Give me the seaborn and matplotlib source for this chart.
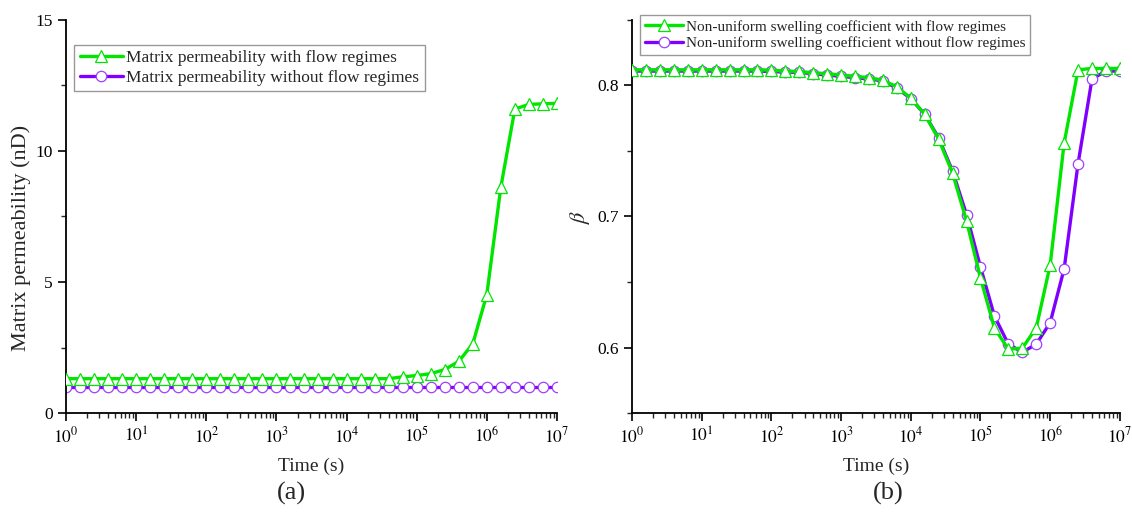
import numpy as np
import pandas as pd
import matplotlib
matplotlib.use("Agg")
import matplotlib.pyplot as plt
import seaborn as sns
from matplotlib.ticker import FixedLocator, MultipleLocator, NullFormatter

# ---- data (markers every 0.2 decade, 10^0 .. 10^7) ----
log_t = [i * 0.2 for i in range(36)]
time_s = [10 ** v for v in log_t]

perm_with = [1.31] * 24 + [1.38, 1.43, 1.50, 1.66, 1.97, 2.64, 4.52, 8.62, 11.6, 11.78, 11.8, 11.82]
perm_without = [1.0] * 36

beta_with = [0.812] * 10 + [0.8117, 0.811, 0.8107, 0.8097, 0.809, 0.808, 0.807, 0.806, 0.804, 0.799,
                           0.7903, 0.778, 0.759, 0.733, 0.6965, 0.653, 0.6148, 0.5987, 0.5995, 0.615,
                           0.663, 0.756, 0.812, 0.813, 0.813, 0.813]
beta_without = [0.811] * 10 + [0.8107, 0.8102, 0.81, 0.809, 0.808, 0.807, 0.806, 0.805, 0.8035, 0.798,
                              0.79, 0.778, 0.76, 0.7345, 0.7014, 0.6614, 0.624, 0.6025, 0.5964, 0.6025,
                              0.619, 0.66, 0.7404, 0.805, 0.811, 0.811]

decades = list(range(0, 8))
xtick_labels = [rf"$10^{{{d}}}$" for d in decades]

labels_a = ["Matrix permeability with flow regimes", "Matrix permeability without flow regimes"]
labels_b = ["Non-uniform swelling coefficient with flow regimes",
            "Non-uniform swelling coefficient without flow regimes"]

sns.set_theme(style="ticks")
plt.rcParams["font.family"] = ["Liberation Serif", "DejaVu Serif"]
plt.rcParams["mathtext.fontset"] = "stix"

GREEN = "#00e600"
PURPLE = "#7f00ff"

fig = plt.figure(figsize=(11.32, 5.18), dpi=100)
axA = fig.add_axes([0.0583, 0.2027, 0.4337, 0.7587])
axB = fig.add_axes([0.5583, 0.2027, 0.4310, 0.7587])

def draw(ax, y1, y2, labs):
    sns.lineplot(x=time_s, y=y1, ax=ax, color=GREEN, lw=2.4, marker="^", markersize=8,
                 markerfacecolor="white", markeredgecolor=GREEN, markeredgewidth=0.9,
                 label=labs[0], zorder=3)
    sns.lineplot(x=time_s, y=y2, ax=ax, color=PURPLE, lw=2.4, marker="o", markersize=7.5,
                 markerfacecolor="white", markeredgecolor="#a040ff", markeredgewidth=0.9,
                 label=labs[1], zorder=2)
    ax.set_xscale("log")
    ax.set_xlim(1, 1e7)
    major = [10.0 ** d for d in decades]
    minor = [m * 10.0 ** d for d in decades[:-1] for m in range(2, 10)]
    ax.xaxis.set_major_locator(FixedLocator(major))
    ax.set_xticklabels(xtick_labels)
    ax.xaxis.set_minor_locator(FixedLocator(minor))
    ax.xaxis.set_minor_formatter(NullFormatter())
    for s in ["top", "right"]:
        ax.spines[s].set_visible(False)
    for s in ["left", "bottom"]:
        ax.spines[s].set_linewidth(1.3)
        ax.spines[s].set_color("black")
    ax.tick_params(which="major", direction="out", length=6, width=1.2, labelsize=12.5, colors="black")
    ax.tick_params(which="minor", direction="out", length=3.5, width=1.0)
    ax.set_xlabel("Time (s)", fontsize=14, labelpad=8)

draw(axA, perm_with, perm_without, labels_a)
axA.set_ylim(0, 15)
axA.yaxis.set_major_locator(FixedLocator([0, 5, 10, 15]))
axA.yaxis.set_minor_locator(FixedLocator([2.5, 7.5, 12.5]))
axA.set_ylabel("Matrix permeability (nD)", fontsize=16)
axA.yaxis.set_label_coords(-0.072, 0.445)
legA = axA.legend(loc="upper left", bbox_to_anchor=(0.01, 0.945), fontsize=12.5, frameon=True,
                  fancybox=False, edgecolor="#808080", handlelength=2.5, borderpad=0.3,
                  labelspacing=0.2, handletextpad=0.2, borderaxespad=0.2)
legA.get_frame().set_linewidth(1.0)

draw(axB, beta_with, beta_without, labels_b)
axB.set_ylim(0.55, 0.85)
axB.yaxis.set_major_locator(FixedLocator([0.6, 0.7, 0.8]))
axB.yaxis.set_minor_locator(FixedLocator([0.55, 0.65, 0.75, 0.85]))
axB.set_ylabel(r"$\beta$", fontsize=16)
legB = axB.legend(loc="upper left", bbox_to_anchor=(0.01, 1.02), fontsize=11, frameon=True,
                  fancybox=False, edgecolor="#808080", handlelength=2.5, borderpad=0.3,
                  labelspacing=0.2, handletextpad=0.2, borderaxespad=0.2)
legB.get_frame().set_linewidth(1.0)

fig.text(291 / 1132, 1 - 493 / 518, "(a)", fontsize=19, ha="center", va="center")
fig.text(888 / 1132, 1 - 493 / 518, "(b)", fontsize=19, ha="center", va="center")

fig.savefig("out.png", dpi=100)
